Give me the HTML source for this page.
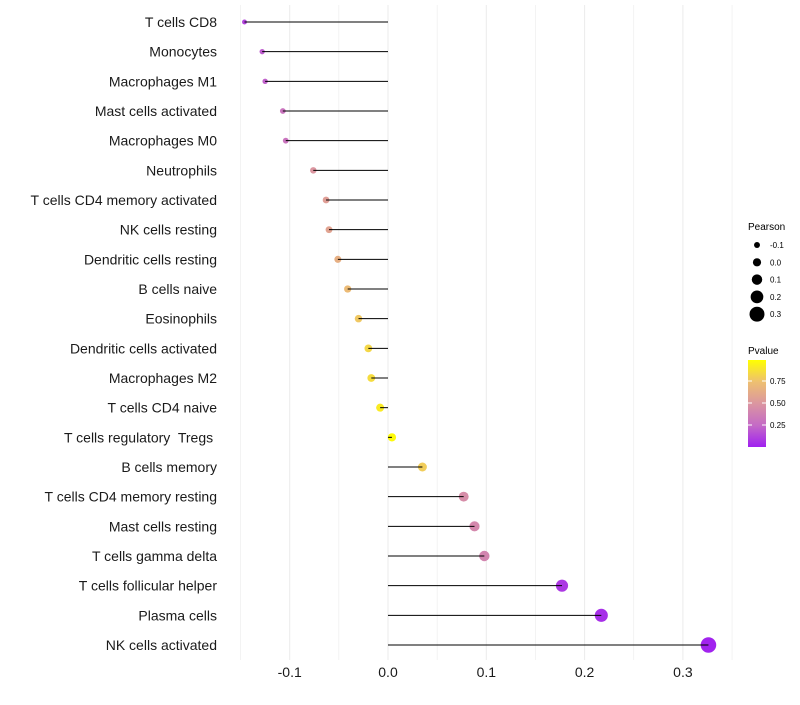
<!DOCTYPE html>
<html><head><meta charset="utf-8"><style>
body{margin:0;background:#fff;font-family:"Liberation Sans",Arial,sans-serif}
svg text{font-family:"Liberation Sans",Arial,sans-serif;white-space:pre}
</style></head><body>
<svg id="chart" width="800" height="700" xmlns="http://www.w3.org/2000/svg">
<defs><linearGradient id="pg" x1="0" y1="1" x2="0" y2="0">
<stop offset="0" stop-color="#A020F0"/><stop offset="0.25" stop-color="#C46BC6"/><stop offset="0.5" stop-color="#DB96A0"/><stop offset="0.75" stop-color="#EEC070"/><stop offset="1" stop-color="#FFFF00"/></linearGradient></defs>
<g id="grid"></g>
<g id="marks"></g>
<g id="ylabels"></g>
<g id="xticks"></g>
<g>
<text x="748" y="230" font-size="10">Pearson</text>
<g id="sizeLegend"></g>
<text x="748" y="354" font-size="10">Pvalue</text>
<rect x="748" y="360" width="18" height="87" fill="url(#pg)"/>
<g id="colorLegend"></g>
</g>
</svg>
<script>
const categories=["T cells CD8","Monocytes","Macrophages M1","Mast cells activated","Macrophages M0","Neutrophils","T cells CD4 memory activated","NK cells resting","Dendritic cells resting","B cells naive","Eosinophils","Dendritic cells activated","Macrophages M2","T cells CD4 naive","T cells regulatory  Tregs ","B cells memory","T cells CD4 memory resting","Mast cells resting","T cells gamma delta","T cells follicular helper","Plasma cells","NK cells activated"];
const pearson=[-0.146,-0.128,-0.125,-0.107,-0.104,-0.076,-0.063,-0.060,-0.051,-0.041,-0.030,-0.020,-0.017,-0.008,0.004,0.035,0.077,0.088,0.098,0.177,0.217,0.326];
const pvalues=[0.12,0.2,0.22,0.3,0.3,0.5,0.55,0.58,0.65,0.72,0.78,0.84,0.86,0.92,0.98,0.8,0.45,0.42,0.4,0.08,0.05,0.01];
const xTicks=[-0.1,0.0,0.1,0.2,0.3];
const xTickLabels=["-0.1","0.0","0.1","0.2","0.3"];
const sizeLegendVals=[-0.1,0.0,0.1,0.2,0.3];
const colorLegendVals=[0.25,0.5,0.75];
const NS="http://www.w3.org/2000/svg";
const x=v=>388+v*983;
const y=i=>22+i*(623/(categories.length-1));
const r=v=>Math.max(1.8,4.1+11.25*v);
const stops=[[0,[160,32,240]],[0.25,[196,107,198]],[0.5,[219,150,160]],[0.75,[238,192,112]],[1,[255,255,0]]];
function col(p){for(let k=1;k<stops.length;k++){if(p<=stops[k][0]){const a=stops[k-1],b=stops[k],t=(p-a[0])/(b[0]-a[0]);return "rgb("+a[1].map((c,j)=>Math.round(c+(b[1][j]-c)*t)).join(",")+")";}}return "rgb(255,255,0)";}
function el(t,a,p){const e=document.createElementNS(NS,t);for(const k in a)e.setAttribute(k,a[k]);p.appendChild(e);return e;}
const grid=document.getElementById('grid');
for(let v=-0.15;v<=0.351;v+=0.05){const g=el('line',{x1:x(v),x2:x(v),y1:5,y2:660,stroke:'#ebebeb','stroke-width':Math.abs(Math.round(v*100))%10===0?1:0.6},grid);}
const marks=document.getElementById('marks'),yl=document.getElementById('ylabels');
categories.forEach((c,i)=>{
 const d=el('circle',{cx:x(pearson[i]),cy:y(i),r:r(pearson[i]),fill:col(pvalues[i])},marks);
 
 
 const ln=el('line',{x1:x(0),x2:x(pearson[i]),y1:y(i),y2:y(i),stroke:'#000','stroke-width':1},marks);
 
 
 const t=el('text',{x:217,y:y(i)+5,'font-size':14,'text-anchor':'end',fill:'#1a1a1a'},yl);t.textContent=c;
 
 
});
const xt=document.getElementById('xticks');
xTicks.forEach((v,i)=>{const t=el('text',{x:x(v),y:677,'font-size':14,'text-anchor':'middle',fill:'#1a1a1a'},xt);t.textContent=xTickLabels[i];
 
 });
const sl=document.getElementById('sizeLegend');
sizeLegendVals.forEach((v,i)=>{const cy=245+i*17.3;const c=el('circle',{cx:757,cy:cy,r:r(v),fill:'#000'},sl);
 
 
 const t=el('text',{x:770,y:cy+3,'font-size':8},sl);t.textContent=v.toFixed(1);
 
 });
const cl=document.getElementById('colorLegend');
colorLegendVals.forEach(v=>{const cy=447-v*88;el('line',{x1:748,x2:752,y1:cy,y2:cy,stroke:'#fff'},cl);el('line',{x1:762,x2:766,y1:cy,y2:cy,stroke:'#fff'},cl);
 const t=el('text',{x:770,y:cy+3,'font-size':8},cl);t.textContent=v.toFixed(2);
 
 });
</script>
</body></html>
